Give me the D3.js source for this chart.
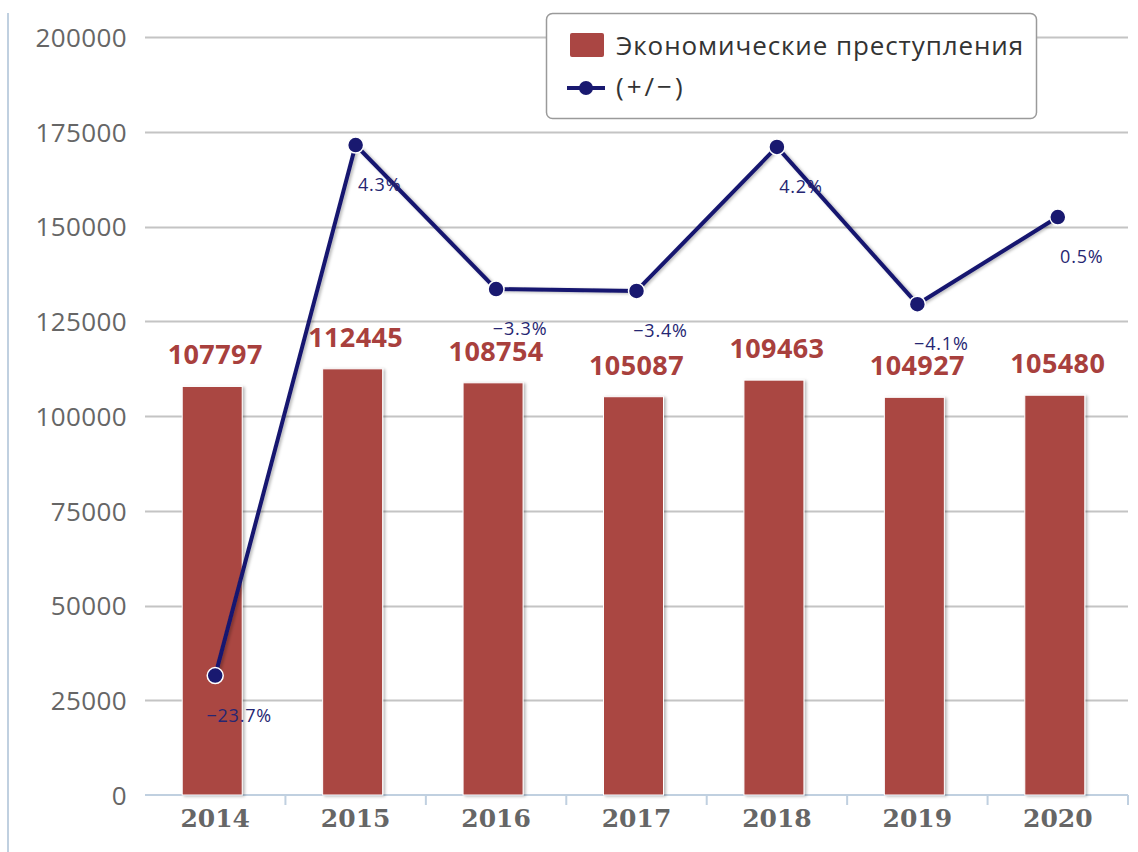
<!DOCTYPE html>
<html>
<head>
<meta charset="utf-8">
<script src="https://cdn.jsdelivr.net/npm/d3@7"></script>
<style>
  html, body { margin: 0; padding: 0; background: #fff; }
  svg { display: block; }
</style>
</head>
<body>
<svg id="chart" width="1138" height="852"></svg>
<script>
// ---- data ----
const categories = ["2014", "2015", "2016", "2017", "2018", "2019", "2020"];
const crimes = [107797, 112445, 108754, 105087, 109463, 104927, 105480];
const change = [-23.7, 4.3, -3.3, -3.4, 4.2, -4.1, 0.5];
const yTicks = [0, 25000, 50000, 75000, 100000, 125000, 150000, 175000, 200000];
const barSeriesName = "Экономические преступления";
const lineSeriesName = "(+/−)";

// ---- layout ----
const W = 1138, H = 852;
const plot = { left: 145, right: 1128, top: 37, bottom: 795 };
const barColor = "#AA4643";
const lineColor = "#191970";

const svg = d3.select("#chart");
const defs = svg.append("defs");
const f = defs.append("filter").attr("id", "shadow").attr("x", "-20%").attr("y", "-20%").attr("width", "140%").attr("height", "140%");
f.append("feDropShadow").attr("dx", 2).attr("dy", 1).attr("stdDeviation", 1.8).attr("flood-color", "#000").attr("flood-opacity", 0.28);

const x = d3.scaleBand().domain(categories).range([plot.left, plot.right]).padding(0);
const y = d3.scaleLinear().domain([0, 200000]).range([plot.bottom, plot.top]);
const y2 = d3.scaleLinear().domain([-30, 10]).range([plot.bottom, plot.top]);

// left border line
svg.append("line").attr("x1", 8).attr("x2", 8).attr("y1", 13).attr("y2", H)
  .attr("stroke", "#c0d0e0").attr("stroke-width", 2);

// gridlines
svg.append("g").selectAll("line").data(yTicks.filter(d => d > 0)).join("line")
  .attr("x1", plot.left).attr("x2", plot.right)
  .attr("y1", d => Math.round(y(d)) + 0.5).attr("y2", d => Math.round(y(d)) + 0.5)
  .attr("stroke", "#c4c4c4").attr("stroke-width", 2);

// y axis labels
const yAxis = d3.axisLeft(y).tickValues(yTicks).tickSize(0).tickPadding(0).tickFormat(d3.format("d"));
const gy = svg.append("g").attr("transform", `translate(${127},0)`).call(yAxis);
gy.select(".domain").remove();
gy.selectAll("text")
  .attr("font-family", "'Open Sans', sans-serif").attr("font-size", 26)
  .attr("fill", "#666").attr("dy", "0.36em").attr("letter-spacing", 0.4);

// x axis
const gx = svg.append("g").attr("transform", `translate(0,${plot.bottom})`);
gx.append("line").attr("x1", plot.left).attr("x2", plot.right).attr("y1", 0).attr("y2", 0)
  .attr("stroke", "#c0d0e0").attr("stroke-width", 2);
gx.selectAll("line.tick").data(categories).join("line").attr("class", "tick")
  .attr("x1", d => x(d) + x.bandwidth()).attr("x2", d => x(d) + x.bandwidth())
  .attr("y1", 0).attr("y2", 10).attr("stroke", "#c0d0e0").attr("stroke-width", 2);
gx.selectAll("text").data(categories).join("text")
  .attr("x", d => x(d) + x.bandwidth() / 2).attr("y", 32)
  .attr("text-anchor", "middle")
  .attr("font-family", "'DejaVu Serif', serif").attr("font-weight", "bold").attr("font-size", 25)
  .attr("fill", "#666").text(d => d);

// bars
const barW = 60;
svg.append("g").selectAll("rect").data(categories).join("rect")
  .attr("x", d => x(d) + (x.bandwidth() - barW) / 2 - 3)
  .attr("y", (d, i) => y(crimes[i]))
  .attr("width", barW)
  .attr("height", (d, i) => plot.bottom - y(crimes[i]))
  .attr("fill", barColor).attr("stroke", "#fff").attr("stroke-width", 1)
  .attr("filter", "url(#shadow)");

// bar labels
svg.append("g").selectAll("text").data(categories).join("text")
  .attr("x", d => x(d) + x.bandwidth() / 2)
  .attr("y", (d, i) => y(crimes[i]) - 22)
  .attr("text-anchor", "middle")
  .attr("font-family", "'Open Sans', sans-serif").attr("font-weight", "bold").attr("font-size", 27)
  .attr("letter-spacing", 0.4)
  .attr("fill", "#A8403D").text((d, i) => crimes[i]);

// line
const cx = d => x(d) + x.bandwidth() / 2;
const lineGen = d3.line().x((d, i) => cx(categories[i])).y(d => y2(d));
svg.append("path").datum(change).attr("d", lineGen)
  .attr("fill", "none").attr("stroke", lineColor).attr("stroke-width", 4)
  .attr("stroke-linejoin", "round").attr("filter", "url(#shadow)");
svg.append("g").selectAll("circle").data(change).join("circle")
  .attr("cx", (d, i) => cx(categories[i])).attr("cy", d => y2(d)).attr("r", 8)
  .attr("fill", lineColor).attr("stroke", "#fff").attr("stroke-width", 1.5);

// line labels
const pct = d => (d < 0 ? "−" + Math.abs(d) : String(d)) + "%";
svg.append("g").selectAll("text").data(change).join("text")
  .attr("x", (d, i) => cx(categories[i]) + 24).attr("y", d => y2(d) + 46)
  .attr("text-anchor", "middle")
  .attr("font-family", "'Open Sans', sans-serif").attr("font-size", 18).attr("letter-spacing", 0.8)
  .attr("fill", "#262672").text(pct);

// legend
const lg = svg.append("g");
lg.append("rect").attr("x", 546.5).attr("y", 13.5).attr("width", 490).attr("height", 105).attr("rx", 6)
  .attr("fill", "#fff").attr("stroke", "#9a9a9a").attr("stroke-width", 1.5);
lg.append("rect").attr("x", 570).attr("y", 33).attr("width", 34).attr("height", 24).attr("rx", 2)
  .attr("fill", barColor);
lg.append("text").attr("x", 616).attr("y", 55)
  .attr("font-family", "'Open Sans', sans-serif").attr("font-size", 26).attr("fill", "#333")
  .attr("letter-spacing", 0.9).text(barSeriesName);
lg.append("line").attr("x1", 567).attr("x2", 605).attr("y1", 88).attr("y2", 88)
  .attr("stroke", lineColor).attr("stroke-width", 4);
lg.append("circle").attr("cx", 586).attr("cy", 88).attr("r", 7).attr("fill", lineColor);
lg.append("text").attr("x", 616).attr("y", 96)
  .attr("font-family", "'Open Sans', sans-serif").attr("font-size", 26).attr("fill", "#333")
  .attr("letter-spacing", 3).text(lineSeriesName);
</script>
</body>
</html>
